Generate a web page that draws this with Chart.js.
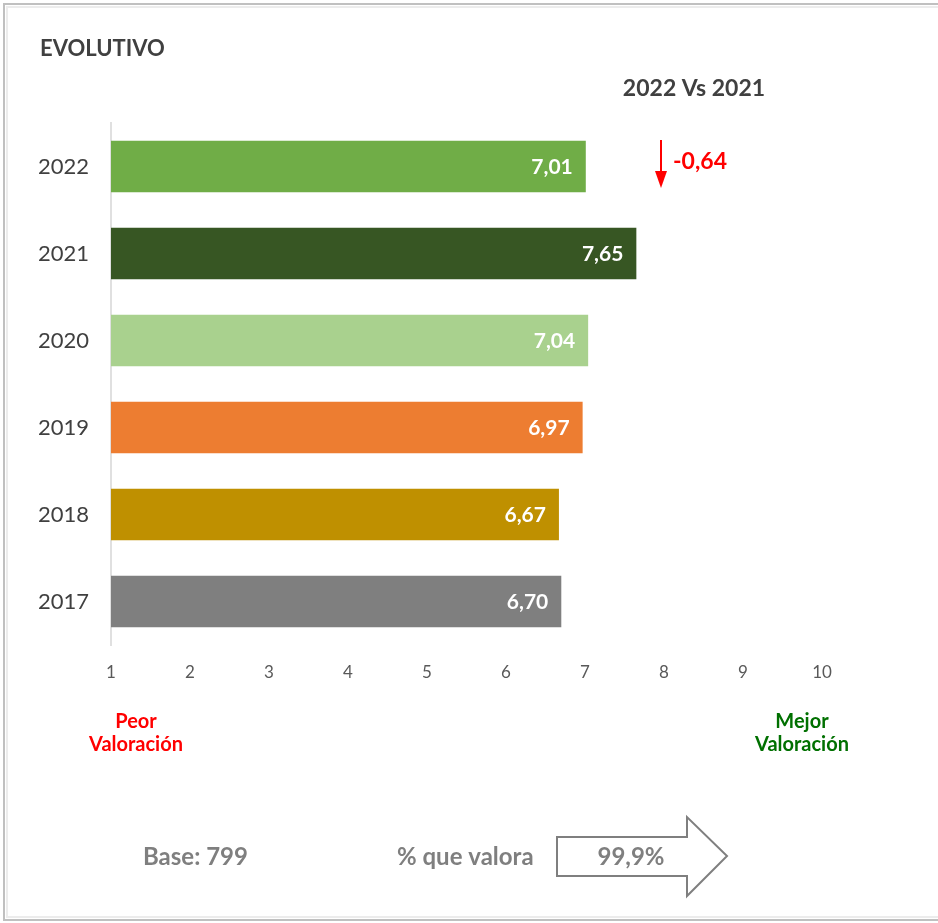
<!DOCTYPE html>
<html><head><meta charset="utf-8">
<script src="https://cdn.jsdelivr.net/npm/chart.js@4"></script>
<style>html,body{margin:0;padding:0;background:#fff;}#wrap{position:relative;width:938px;height:923px;}</style>
</head><body>
<div id="wrap"><canvas id="c" width="938" height="923"></canvas></div>
<script>
const categories = ['2022','2021','2020','2019','2018','2017'];
const values = [7.01, 7.65, 7.04, 6.97, 6.67, 6.70];
const barColors = ['#70AD47','#375623','#A9D18E','#ED7D31','#BF9000','#7F7F7F'];
const xTicks = [1,2,3,4,5,6,7,8,9,10];
const diffLabel = '-0,64';
const compareTitle = '2022 Vs 2021';
const baseLabel = 'Base: 799';
const valoraLabel = '% que valora';
const valoraValue = '99,9%';

const FONT = 'Lato, "Liberation Sans", sans-serif';
const fmt = v => v.toFixed(2).replace('.', ',');

const extras = {
  id: 'extras',
  beforeDraw(chart) {
    const ctx = chart.ctx;
    ctx.save();
    ctx.strokeStyle = '#c0c0c0';
    ctx.lineWidth = 2;
    ctx.strokeRect(4, 4, 960, 916);
    ctx.strokeStyle = '#ececec';
    ctx.lineWidth = 2;
    ctx.strokeRect(7, 7, 960, 910);
    ctx.restore();
  },
  afterDatasetsDraw(chart) {
    const ctx = chart.ctx;
    const meta = chart.getDatasetMeta(0);
    ctx.save();
    ctx.font = 'bold 21px ' + FONT;
    ctx.fillStyle = '#ffffff';
    ctx.textAlign = 'right';
    ctx.textBaseline = 'middle';
    meta.data.forEach((bar, i) => {
      ctx.fillText(fmt(values[i]), bar.x - 13, bar.y + 1);
    });
    ctx.restore();
  },
  afterDraw(chart) {
    const ctx = chart.ctx;
    ctx.save();
    ctx.textBaseline = 'middle';
    // Title
    ctx.fillStyle = '#404040';
    ctx.font = 'bold 22px ' + FONT;
    ctx.textAlign = 'left';
    ctx.fillText('EVOLUTIVO', 40, 49);
    ctx.font = 'bold 23px ' + FONT;
    ctx.textAlign = 'center';
    ctx.fillText(compareTitle, 694, 89);
    // red arrow
    ctx.strokeStyle = '#ff0000';
    ctx.fillStyle = '#ff0000';
    ctx.lineWidth = 2;
    ctx.beginPath(); ctx.moveTo(661, 140); ctx.lineTo(661, 172); ctx.stroke();
    ctx.beginPath(); ctx.moveTo(655, 171); ctx.lineTo(667, 171); ctx.lineTo(661, 188); ctx.closePath(); ctx.fill();
    ctx.font = 'bold 23px ' + FONT;
    ctx.textAlign = 'left';
    ctx.fillText(diffLabel, 673, 162);
    // Peor / Mejor
    ctx.font = 'bold 20px ' + FONT;
    ctx.textAlign = 'center';
    ctx.fillStyle = '#ff0000';
    ctx.fillText('Peor', 136, 722);
    ctx.fillText('Valoración', 136, 745);
    ctx.fillStyle = '#007000';
    ctx.fillText('Mejor', 802, 722);
    ctx.fillText('Valoración', 802, 745);
    // bottom
    ctx.fillStyle = '#7f7f7f';
    ctx.font = 'bold 24px ' + FONT;
    ctx.textAlign = 'left';
    ctx.fillText(baseLabel, 143, 857);
    ctx.fillText(valoraLabel, 397, 857);
    // arrow shape
    ctx.strokeStyle = '#7f7f7f';
    ctx.lineWidth = 2;
    ctx.fillStyle = '#ffffff';
    ctx.beginPath();
    ctx.moveTo(557, 837); ctx.lineTo(687, 837); ctx.lineTo(687, 817);
    ctx.lineTo(727, 856); ctx.lineTo(687, 896); ctx.lineTo(687, 876);
    ctx.lineTo(557, 876); ctx.closePath();
    ctx.fill(); ctx.stroke();
    ctx.fillStyle = '#7f7f7f';
    ctx.textAlign = 'center';
    ctx.fillText(valoraValue, 631, 857);
    ctx.restore();
  }
};

new Chart(document.getElementById('c'), {
  type: 'bar',
  data: {
    labels: categories,
    datasets: [{ data: values, backgroundColor: barColors, borderWidth: 0, barPercentage: 0.59, categoryPercentage: 1 }]
  },
  options: {
    indexAxis: 'y',
    responsive: false,
    animation: false,
    events: [],
    layout: { padding: { left: 0, top: 123, right: 116, bottom: 218 } },
    plugins: { legend: { display: false }, tooltip: { enabled: false } },
    scales: {
      x: {
        type: 'linear', min: 1, max: 10,
        afterBuildTicks: s => { s.ticks = xTicks.map(v => ({ value: v })); },
        grid: { display: false, drawTicks: false },
        border: { display: false },
        ticks: { color: '#595959', font: { family: FONT, size: 17 }, padding: 17 },
        afterFit: s => { s.height = 60; }
      },
      y: {
        grid: { display: false, drawTicks: false },
        border: { display: true, color: '#e0e0e0', width: 2 },
        ticks: { color: '#404040', font: { family: FONT, size: 22 }, padding: 22 },
        afterFit: s => { s.width = 111; }
      }
    }
  },
  plugins: [extras]
});
</script>
</body></html>
